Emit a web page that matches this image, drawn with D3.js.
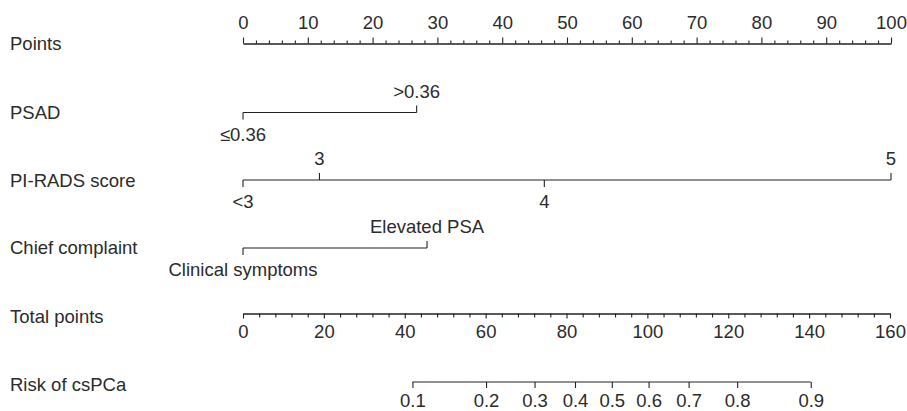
<!DOCTYPE html>
<html>
<head>
<meta charset="utf-8">
<script src="https://cdn.jsdelivr.net/npm/d3@7"></script>
<style>
  html, body { margin: 0; padding: 0; background: #fff; }
  svg text { font-family: "Liberation Sans", Arial, Helvetica, sans-serif; fill: #2b2b2b; }
</style>
</head>
<body>
<svg id="chart" width="907" height="411"></svg>
<script>
// ---- data ----
const rowTitles = ["Points", "PSAD", "PI-RADS score", "Chief complaint", "Total points", "Risk of csPCa"];
const pointsMajorTicks = [0, 10, 20, 30, 40, 50, 60, 70, 80, 90, 100];
const psadLabels = ["\u22640.36", ">0.36"];
const psadPoints = [0, 26.8];
const piradsLabels = ["<3", "3", "4", "5"];
const piradsPoints = [0, 11.8, 46.5, 100];
const complaintLabels = ["Clinical symptoms", "Elevated PSA"];
const complaintPoints = [0, 28.4];
const totalMajorTicks = [0, 20, 40, 60, 80, 100, 120, 140, 160];
const riskLabels = ["0.1", "0.2", "0.3", "0.4", "0.5", "0.6", "0.7", "0.8", "0.9"];
const riskTotalPoints = [41.9, 60.1, 72.1, 82.1, 91.2, 100.3, 110.2, 122.2, 140.4];

// ---- layout ----
const svg = d3.select("#chart");
const FS = 18.5;
const lineColor = "#222";
const rowY = [43.5, 112.5, 180, 248, 313.5, 382];
const xP = d3.scaleLinear().domain([0, 100]).range([243, 891]);
const xT = d3.scaleLinear().domain([0, 160]).range([243, 890]);

// row titles
svg.selectAll("text.title").data(rowTitles).join("text")
  .attr("class", "title")
  .attr("x", 10)
  .attr("y", (d, i) => rowY[i] + [0, 0, 1, 0, 3.5, 3][i])
  .attr("dy", "0.35em")
  .style("font-size", FS + "px")
  .text(d => d);

function styleAxis(g) {
  g.selectAll("path, line").attr("stroke", lineColor).attr("stroke-width", 1.1);
  g.selectAll("text").style("font-size", FS + "px").attr("fill", "#2b2b2b")
    .style("font-family", '"Liberation Sans", Arial, sans-serif');
}

// Points axis (top)
const minorP = d3.range(0, 101, 2).filter(v => v % 10 !== 0);
svg.append("g").attr("transform", `translate(0,${rowY[0]})`)
  .call(d3.axisTop(xP).tickValues(minorP).tickSize(3).tickSizeOuter(0).tickFormat(""))
  .call(styleAxis);
svg.append("g").attr("transform", `translate(0,${rowY[0]})`)
  .call(d3.axisTop(xP).tickValues(pointsMajorTicks).tickSize(6).tickSizeOuter(0).tickPadding(9))
  .call(styleAxis);

// categorical variable rows
function variableRow(y, labels, pts) {
  const g = svg.append("g");
  g.append("line")
    .attr("x1", xP(d3.min(pts))).attr("x2", xP(d3.max(pts)))
    .attr("y1", y).attr("y2", y)
    .attr("stroke", lineColor).attr("stroke-width", 1.1);
  labels.forEach((lab, i) => {
    const up = i % 2 === 1;
    g.append("line")
      .attr("x1", xP(pts[i])).attr("x2", xP(pts[i]))
      .attr("y1", y).attr("y2", up ? y - 7 : y + 7)
      .attr("stroke", lineColor).attr("stroke-width", 1.1);
    g.append("text")
      .attr("x", xP(pts[i]))
      .attr("y", up ? y - 21 : y + 22)
      .attr("dy", "0.35em")
      .attr("text-anchor", "middle")
      .style("font-size", FS + "px")
      .text(lab);
  });
}
variableRow(rowY[1], psadLabels, psadPoints);
variableRow(rowY[2], piradsLabels, piradsPoints);
variableRow(rowY[3], complaintLabels, complaintPoints);

// Total points axis (bottom)
const minorT = d3.range(0, 161, 4).filter(v => v % 20 !== 0);
svg.append("g").attr("transform", `translate(0,${rowY[4]})`)
  .call(d3.axisBottom(xT).tickValues(minorT).tickSize(4).tickSizeOuter(0).tickFormat(""))
  .call(styleAxis);
svg.append("g").attr("transform", `translate(0,${rowY[4]})`)
  .call(d3.axisBottom(xT).tickValues(totalMajorTicks).tickSize(5).tickSizeOuter(0).tickPadding(6))
  .call(styleAxis);

// Risk axis
const riskG = svg.append("g").attr("transform", `translate(0,${rowY[5]})`)
  .call(d3.axisBottom(xT).tickValues(riskTotalPoints).tickSize(6).tickSizeOuter(0).tickPadding(6)
    .tickFormat((d, i) => riskLabels[i]))
  .call(styleAxis);
riskG.select("path.domain").remove();
riskG.append("line")
  .attr("x1", xT(riskTotalPoints[0])).attr("x2", xT(riskTotalPoints[riskTotalPoints.length - 1]))
  .attr("y1", 0).attr("y2", 0)
  .attr("stroke", lineColor).attr("stroke-width", 1.1);
</script>
</body>
</html>
